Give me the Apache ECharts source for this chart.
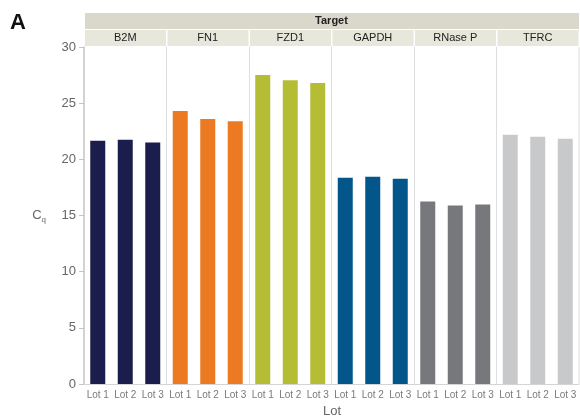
<!DOCTYPE html>
<html><head><meta charset="utf-8">
<script src="https://cdn.jsdelivr.net/npm/echarts@6/dist/echarts.min.js"></script>
<style>html,body{margin:0;padding:0;background:#fff}#c{width:580px;height:417px}</style>
</head><body><div id="c"></div>
<script>
const targets = ['B2M','FN1','FZD1','GAPDH','RNase P','TFRC'];
const lots = ['Lot 1','Lot 2','Lot 3'];
const b2m = [21.65, 21.75, 21.5];
const fn1 = [24.3, 23.6, 23.4];
const fzd1 = [27.5, 27.05, 26.8];
const gapdh = [18.37, 18.46, 18.28];
const rnaseP = [16.25, 15.9, 15.97];
const tfrc = [22.18, 22.0, 21.83];
const yTicks = [0,5,10,15,20,25,30];
const colors = ['#1b1d4d','#ec7a23','#b5bd35','#02568a','#77787b','#c8c9cb'];
const values = [b2m, fn1, fzd1, gapdh, rnaseP, tfrc];

const L = 84, R = 579, TOP = 47, BOT = 384, H = 417;
const pw = (R - L) / targets.length;
const grids = [], xAxes = [], yAxes = [], series = [], graphics = [];
targets.forEach((t, i) => {
  const gl = L + i * pw;
  grids.push({left: gl, width: pw, top: TOP, bottom: H - BOT, containLabel: false, outerBoundsMode: 'none'});
  xAxes.push({
    type: 'category', gridIndex: i, data: lots,
    axisLine: {show: true, lineStyle: {color: '#d4d4d4'}},
    axisTick: {show: false},
    axisLabel: {color: '#7a7a7a', fontSize: 10, fontFamily: 'Liberation Sans, Arial', margin: 6, interval: 0}
  });
  yAxes.push({
    type: 'value', gridIndex: i, min: 0, max: 30, interval: 5,
    splitLine: {show: false},
    axisLine: {show: true, lineStyle: {color: i === 0 ? '#c4c4c4' : '#dedede', width: i === 0 ? 1.5 : 1}},
    axisTick: {show: i === 0, length: 5, lineStyle: {color: '#c4c4c4'}},
    axisLabel: {show: i === 0, color: '#666', fontSize: 13, fontFamily: 'Liberation Sans, Arial', margin: 8,
      formatter: v => yTicks.includes(v) ? String(v) : ''},
    name: i === 0 ? '{c|C}{s|q}' : '', nameLocation: 'middle', nameRotate: 0, nameGap: 38,
    nameTextStyle: {rich: {c: {color: '#666', fontSize: 13, fontFamily: 'Liberation Sans, Arial'},
                           s: {color: '#666', fontSize: 8, fontFamily: 'Liberation Sans, Arial', padding: [8,0,0,0]}}}
  });
  series.push({
    type: 'bar', xAxisIndex: i, yAxisIndex: i, data: values[i],
    barWidth: 15, itemStyle: {color: colors[i]}, silent: true
  });
  graphics.push({type: 'rect', shape: {x: gl + 1, y: 30, width: pw - 1.5, height: 16}, style: {fill: '#e8e7dc'}});
  graphics.push({type: 'text', x: gl + pw / 2, y: 38,
    style: {text: t, fill: '#222', font: '11px "Liberation Sans", Arial', textAlign: 'center', textVerticalAlign: 'middle'}});
});
graphics.unshift({type: 'rect', shape: {x: L + 1, y: 13, width: R - L - 1, height: 16}, style: {fill: '#dad8cb'}});
graphics.push({type: 'text', x: (L + R) / 2, y: 21,
  style: {text: 'Target', fill: '#222', font: 'bold 11px "Liberation Sans", Arial', textAlign: 'center', textVerticalAlign: 'middle'}});
graphics.push({type: 'text', x: 332, y: 411,
  style: {text: 'Lot', fill: '#666', font: '13px "Liberation Sans", Arial', textAlign: 'center', textVerticalAlign: 'middle'}});
graphics.push({type: 'line', shape: {x1: R, y1: TOP, x2: R, y2: BOT}, style: {stroke: '#dedede', lineWidth: 1}});
graphics.push({type: 'text', x: 10, y: 12,
  style: {text: 'A', fill: '#111', font: 'bold 22px "Liberation Sans", Arial', textAlign: 'left', textVerticalAlign: 'top'}});

const chart = echarts.init(document.getElementById('c'));
chart.setOption({
  animation: false,
  grid: grids, xAxis: xAxes, yAxis: yAxes, series: series, graphic: graphics
});
</script></body></html>
